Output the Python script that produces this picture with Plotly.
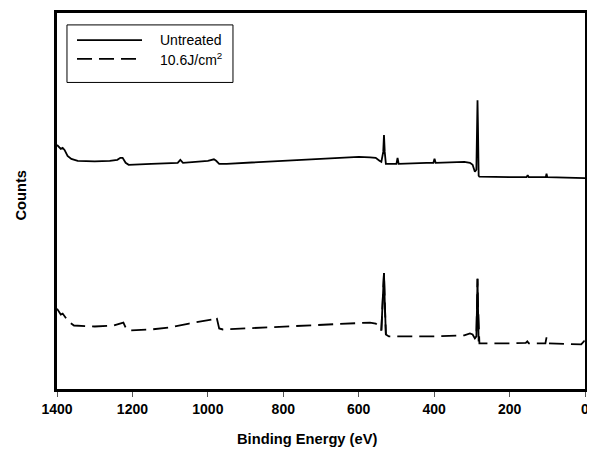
import plotly.graph_objects as go

# Binding energy (eV) and counts (arbitrary units)
untreated_be = [1400, 1395, 1390, 1385, 1380, 1372, 1362, 1345, 1300, 1260, 1240, 1232, 1226, 1218, 1210,
                1150, 1080, 1073, 1066, 1000, 990, 984, 978, 970, 950, 800, 700, 600, 570, 555, 545, 540,
                535, 533, 531, 528, 520, 500, 497, 494, 420, 402, 399, 396, 320, 305, 298, 292, 288,
                286, 285, 284, 282, 280, 200, 155, 152, 149, 104, 102, 100, 50, 0]
untreated_py = [143, 145, 147, 146, 148, 154, 157, 159, 159.5, 159, 158, 156, 156, 161, 163,
                162, 161, 158, 161, 159, 158, 157.5, 159, 162, 162, 159, 157, 155, 155.5, 156, 159, 160,
                150, 133, 150, 162, 162, 162, 156, 162, 161, 161, 157, 161, 160, 161, 163, 170, 168,
                120, 98, 120, 174, 175, 175.5, 175.5, 173.5, 175.5, 175.5, 172, 175.5, 176, 176.5]
untreated = [389 - v for v in untreated_py]

treated_be = [1400, 1395, 1390, 1385, 1380, 1370, 1355, 1300, 1250, 1232, 1224, 1218, 1210,
              1150, 1100, 1050, 1000, 990, 984, 980, 976, 970, 960, 800, 650, 570, 555, 545, 540,
              536, 533, 531, 528, 520, 400, 320, 305, 298, 292, 288, 286, 285, 284, 282, 280,
              200, 157, 153, 149, 105, 102, 99, 40, 10, 3, 0]
treated_py = [308, 311, 314, 313, 316, 321, 325, 326, 325, 323, 322, 327, 330,
              329, 327, 323, 320, 319, 317, 316, 318, 328, 329, 326, 323, 322, 323, 326, 330,
              300, 272, 300, 334, 336, 336, 335, 333, 334, 338, 336, 300, 278, 300, 341, 343,
              343, 342.5, 341, 343, 343, 337, 343, 344, 344, 341, 344]
treated = [389 - v for v in treated_py]

series_names = ["Untreated", "10.6J/cm<sup>2</sup>"]
x_ticks = [1400, 1200, 1000, 800, 600, 400, 200, 0]
x_title = "Binding Energy (eV)"
y_title = "Counts"

fig = go.Figure()
fig.add_trace(go.Scatter(x=untreated_be, y=untreated, mode="lines", name=series_names[0],
                         showlegend=False, line=dict(color="black", width=1.8)))
fig.add_trace(go.Scatter(x=treated_be, y=treated, mode="lines", name=series_names[1],
                         showlegend=False, line=dict(color="black", width=1.8, dash="15px,7px")))
# the narrow photo-emission peaks of the dashed series are drawn continuous, as in the reference
for lo, hi in [(528, 540), (282, 292)]:
    idx = [i for i, e in enumerate(treated_be) if lo <= e <= hi]
    fig.add_trace(go.Scatter(x=[treated_be[i] for i in idx], y=[treated[i] for i in idx],
                             mode="lines", showlegend=False, hoverinfo="skip",
                             line=dict(color="black", width=1.8)))

# legend drawn by hand (paper coordinates of the plot area)
fig.add_shape(type="rect", xref="paper", yref="paper", x0=0.0189, x1=0.3333, y0=0.8153, y1=0.9683,
              line=dict(color="black", width=1), fillcolor="white", layer="above")
for yy, dash, name in [(0.928, "solid", series_names[0]), (0.878, "15px,7px", series_names[1])]:
    fig.add_shape(type="line", xref="paper", yref="paper", x0=0.0379, x1=0.161, y0=yy, y1=yy,
                  line=dict(color="black", width=1.8, dash=dash), layer="above")
    fig.add_annotation(x=0.1913, y=yy, xref="paper", yref="paper", text=name, showarrow=False,
                       xanchor="left", yanchor="middle", font=dict(size=14, color="black"))

# axis titles
fig.add_annotation(x=0.4735, y=-0.132, xref="paper", yref="paper", text="<b>%s</b>" % x_title,
                   showarrow=False, xanchor="center", yanchor="middle",
                   font=dict(size=14.7, color="black"))
fig.add_annotation(x=-0.0682, y=0.517, xref="paper", yref="paper", text="<b>%s</b>" % y_title,
                   showarrow=False, xanchor="center", yanchor="middle", textangle=-90,
                   font=dict(size=14.7, color="black"))

fig.update_layout(
    width=587, height=446,
    margin=dict(l=49, r=10, t=2, b=65),
    paper_bgcolor="white", plot_bgcolor="white",
    font=dict(family="Liberation Sans, Arial", color="black"),
    showlegend=False,
    xaxis=dict(range=[1400, 0], tickvals=x_ticks, ticktext=[str(t) for t in x_ticks],
               showgrid=False, zeroline=False, showline=True, linecolor="black", linewidth=2.5,
               mirror=True, ticks="outside", ticklen=5, tickcolor="#555", tickwidth=1,
               tickfont=dict(size=14, family="Liberation Sans, Arial", weight="bold")),
    yaxis=dict(range=[0, 379], showticklabels=False, showgrid=False, zeroline=False,
               showline=True, linecolor="black", linewidth=2.5, mirror=True, ticks=""),
)

fig.write_html("out.html")
